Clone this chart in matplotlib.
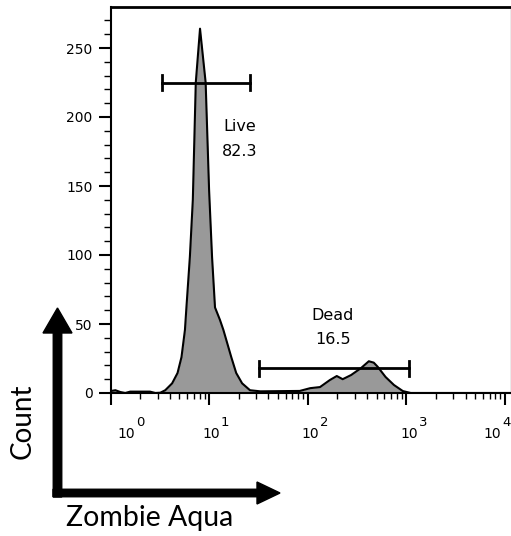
import numpy as np
import matplotlib.pyplot as plt
from matplotlib.patches import FancyArrow
from matplotlib.transforms import ScaledTranslation, blended_transform_factory
from matplotlib.ticker import FixedLocator, NullFormatter

# histogram outline (x in log10 decades, y = count)
log_x = [0.00, 0.05, 0.10, 0.15, 0.20, 0.30, 0.40, 0.455, 0.505, 0.555,
         0.625, 0.68, 0.72, 0.755, 0.77, 0.805, 0.835, 0.865, 0.908, 0.965,
         1.00, 1.03, 1.06, 1.11, 1.145, 1.225, 1.275, 1.335, 1.415, 1.52,
         1.92, 2.025, 2.125, 2.225, 2.295, 2.355, 2.44, 2.54, 2.62, 2.67,
         2.71, 2.79, 2.875, 2.965, 3.045, 4.06]
counts = [1.4, 2.0, 0.7, 0.0, 1.0, 1.0, 1.0, 0.0, 0.2, 2.0,
          7.0, 14.5, 26.0, 45.7, 62.0, 98.6, 140.0, 225.0, 264.0, 225.0,
          147.0, 98.6, 62.0, 53.0, 45.7, 26.0, 14.5, 7.0, 2.0, 1.2,
          1.5, 3.5, 4.3, 9.4, 12.3, 10.0, 13.0, 18.0, 23.0, 22.0,
          19.0, 11.6, 5.8, 1.4, 0.0, 0.0]

# gates: name, value, log10 range, height
gate_names = ["Live", "Dead"]
gate_values = ["82.3", "16.5"]
gate_lo = [0.522, 1.506]
gate_hi = [1.415, 3.027]
gate_y = [225, 18]
gate_text_x = [1.313, 2.257]
gate_text_y = [192.8, 56.5]

yticks = [0, 50, 100, 150, 200, 250]
xdecades = [0, 1, 2, 3, 4]

W, H = 511, 536
fig = plt.figure(figsize=(W / 100, H / 100), dpi=100)
ax = fig.add_axes([110.5 / W, 1 - 393 / H, 400 / W, (393 - 6.6) / H])

x = 10 ** np.array(log_x)
ax.fill_between(x, counts, 0, color="#999999", lw=0)
ax.plot(x, counts, color="black", lw=1.5)

for lo, hi, gy in zip(gate_lo, gate_hi, gate_y):
    ax.plot([10 ** lo, 10 ** hi], [gy, gy], color="black", lw=2)
    for g in (lo, hi):
        ax.plot([10 ** g, 10 ** g], [gy - 5.5, gy + 5.5], color="black", lw=2)

for name, val, tx, ty in zip(gate_names, gate_values, gate_text_x, gate_text_y):
    ax.text(10 ** tx, ty, name, ha="center", va="center", fontsize=11.5)
    ax.text(10 ** tx, ty - 18, val, ha="center", va="center", fontsize=11.5)

ax.set_xscale("log")
ax.set_xlim(1, 10 ** 4.057)
ax.set_ylim(0, 280)

ax.set_xticks([10 ** d for d in xdecades])
ax.set_xticklabels(["10"] * len(xdecades))
ax.xaxis.set_minor_locator(FixedLocator(
    [m * 10 ** d for d in range(4) for m in range(2, 10)]))
ax.xaxis.set_minor_formatter(NullFormatter())
ax.set_yticks(yticks)
ax.set_yticks(np.arange(0, 280, 10), minor=True)

ax.tick_params(axis="x", which="major", length=8.6, width=1.5, labelsize=10, pad=20.7)
ax.tick_params(axis="x", which="minor", length=4.3, width=1)
ax.tick_params(axis="y", which="major", length=8.6, width=1.5, labelsize=10, pad=4.3)
ax.tick_params(axis="y", which="minor", length=5, width=1)

# "10" bases and their exponents, nudged like the original
base_dx = [15.5, 2, 2.5, 3, -12.5]
for lab, dx in zip(ax.get_xticklabels(), base_dx):
    lab.set_va("center")
    lab.set_transform(lab.get_transform() + ScaledTranslation(dx / 100, 0, fig.dpi_scale_trans))

blend = blended_transform_factory(ax.transData, ax.transAxes)
for d, dx in zip(xdecades, base_dx):
    ax.text(10 ** d, 0, str(d), fontsize=9.5, ha="center", va="center", clip_on=False,
            transform=blend + ScaledTranslation((dx + 14) / 100, -30 / 100, fig.dpi_scale_trans))

ax.spines["left"].set_linewidth(1.5)
ax.spines["bottom"].set_linewidth(1.5)
ax.spines["top"].set_linewidth(2)
ax.spines["right"].set_color("#999999")
ax.spines["right"].set_linewidth(1)

# big axis arrows
tr = fig.dpi_scale_trans
fig.add_artist(FancyArrow(0.575, (H - 497) / 100, 0, 1.89, width=0.085,
                          head_width=0.29, head_length=0.25, length_includes_head=True,
                          color="black", transform=tr))
fig.add_artist(FancyArrow(0.53, (H - 493) / 100, 2.27, 0, width=0.075,
                          head_width=0.22, head_length=0.23, length_includes_head=True,
                          color="black", transform=tr))

fig.text(23 / W, 1 - 421 / H, "Count", rotation=90, ha="center", va="center",
         fontsize=20, family="Lato")
fig.text(150 / W, 1 - 518 / H, "Zombie Aqua", ha="center", va="center",
         fontsize=20.5, family="Lato")

fig.savefig("out.png", dpi=100)
